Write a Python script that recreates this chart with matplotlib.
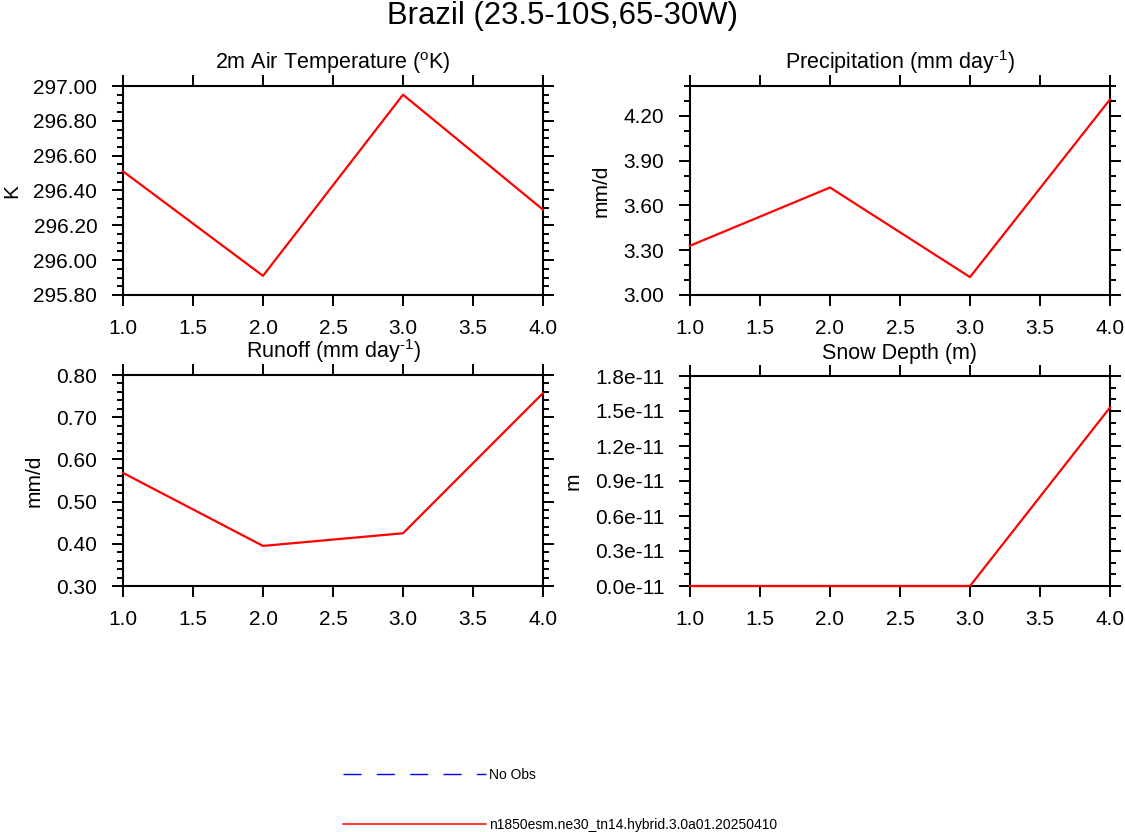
import numpy as np
import matplotlib
matplotlib.use("Agg")
import matplotlib.pyplot as plt
from matplotlib.lines import Line2D
from matplotlib.ticker import MultipleLocator, FuncFormatter

plt.rcParams["font.family"] = ["Liberation Sans", "DejaVu Sans"]
plt.rcParams["mathtext.fontset"] = "custom"
plt.rcParams["mathtext.rm"] = "Liberation Sans"
plt.rcParams["mathtext.default"] = "regular"

# ── data ─────────────────────────────────────────
x_years = [1, 2, 3, 4]
temp_k = [296.51, 295.91, 296.95, 296.29]
precip_mmd = [3.33, 3.72, 3.12, 4.31]
runoff_mmd = [0.568, 0.395, 0.425, 0.757]
snow_m = [0.0, 0.0, 0.0, 1.53e-11]

case_name = "n1850esm.ne30_tn14.hybrid.3.0a01.20250410"
obs_name = "No Obs"

x_ticks = [1.0, 1.5, 2.0, 2.5, 3.0, 3.5, 4.0]

panels = [
    # title, ylabel, values, ylim, major, minor, formatter
    ("2m Air Temperature ($^{o}$K)", "K", temp_k, (295.8, 297.0), 0.2, 0.05,
     FuncFormatter(lambda v, p: f"{v:.2f}")),
    (r"Precipitation (mm day$^{\text{-1}}$)", "mm/d", precip_mmd, (3.0, 4.4), 0.3, 0.1,
     FuncFormatter(lambda v, p: f"{v:.2f}")),
    (r"Runoff (mm day$^{\text{-1}}$)", "mm/d", runoff_mmd, (0.3, 0.8), 0.1, 0.02,
     FuncFormatter(lambda v, p: f"{v:.2f}")),
    ("Snow Depth (m)", "m", snow_m, (0.0, 1.8e-11), 0.3e-11, 0.1e-11,
     FuncFormatter(lambda v, p: f"{v / 1e-11:.1f}e-11")),
]

W, H = 1125, 832
fig = plt.figure(figsize=(W / 100, H / 100), dpi=100)

# axes boxes in pixels: left, top, right, bottom
boxes = [
    (123, 86, 543, 295),
    (690, 86, 1110, 295),
    (123, 375, 543, 586),
    (690, 376, 1110, 586),
]

for (title, ylab, vals, ylim, major, minor, fmt), (l, t, r, b) in zip(panels, boxes):
    ax = fig.add_axes([l / W, 1 - b / H, (r - l) / W, (b - t) / H])
    ax.plot(x_years, vals, color="red", lw=1.6, clip_on=False, zorder=3)
    ax.set_xlim(1, 4)
    ax.set_ylim(*ylim)
    ax.set_xticks(x_ticks)
    ax.xaxis.set_major_formatter(FuncFormatter(lambda v, p: f"{v:.1f}"))
    ax.yaxis.set_major_locator(MultipleLocator(major))
    ax.yaxis.set_minor_locator(MultipleLocator(minor))
    ax.yaxis.set_major_formatter(fmt)
    ax.tick_params(which="both", direction="out", top=True, right=True,
                   width=1.4, labelsize=15)
    ax.tick_params(which="major", length=8)
    ax.tick_params(which="minor", length=4.3)
    ax.tick_params(axis="x", which="major", pad=9)
    ax.tick_params(axis="y", which="major", pad=10.5)
    ax.tick_params(axis="x", which="minor", top=False, bottom=False)
    for s in ax.spines.values():
        s.set_linewidth(1.5)
    ax.set_title(title, fontsize=15.5, pad=12)
    ax.set_ylabel(ylab, fontsize=15, labelpad=9)

fig.suptitle("Brazil (23.5-10S,65-30W)", fontsize=22.4, y=1 - 1 / H, va="top")

handles = [
    Line2D([], [], color="blue", lw=1.0, linestyle=(0, (13, 11))),
    Line2D([], [], color="red", lw=1.1),
]
fig.legend(handles, [obs_name, case_name], loc="upper left",
           bbox_to_anchor=(336 / W, 1 - 761 / H), frameon=False,
           fontsize=10, handlelength=10.3, handletextpad=0.2,
           labelspacing=2.57, borderpad=0)

fig.savefig("out.png", dpi=100)
